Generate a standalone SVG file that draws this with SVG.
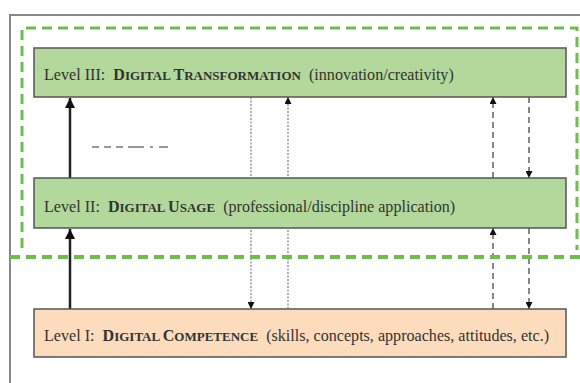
<svg xmlns="http://www.w3.org/2000/svg" width="580" height="383" viewBox="0 0 580 383">
<style>
.box{stroke:#555;stroke-width:1.5}
.lvl{fill:#b3d89b}
.base{fill:#fcdcbc}
.t{font-family:"Liberation Serif","DejaVu Serif",serif;font-size:16.1px;fill:#333;white-space:pre}
.sc{font-weight:bold}
.sm{font-weight:bold;font-size:13px}
.solid{stroke:#222;stroke-width:2.5;fill:none}
.dot{stroke:#999;stroke-width:1.5;stroke-dasharray:2 1.5;fill:none}
.dash{stroke:#888;stroke-width:2;stroke-dasharray:6 4;fill:none}
.green{stroke:#69c04b;fill:none;stroke-dasharray:10 6}
</style>
<defs>
<marker id="ah" viewBox="0 0 10 10" refX="10" refY="5" markerWidth="7" markerHeight="7" markerUnits="userSpaceOnUse" orient="auto">
<path d="M0,0 L10,5 L0,10 z" fill="#111"/>
</marker>
<marker id="ahs" viewBox="0 0 10 10" refX="10" refY="5" markerWidth="4" markerHeight="4" orient="auto">
<path d="M0,0 L10,5 L0,10 z" fill="#111"/>
</marker>
</defs>
<rect width="580" height="383" fill="#fff"/>
<path d="M10,383 L10,15 L580,15" stroke="#888" stroke-width="2" fill="none"/>

<g id="connectors">
<line class="solid" x1="70" y1="178" x2="70" y2="98" marker-end="url(#ahs)"/>
<line class="solid" x1="70" y1="309" x2="70" y2="229" marker-end="url(#ahs)"/>
<line class="dot" x1="251" y1="97" x2="251" y2="309" marker-end="url(#ah)"/>
<line class="dot" x1="288" y1="309" x2="288" y2="97" marker-end="url(#ah)"/>
<line class="dash" x1="493" y1="178" x2="493" y2="97" marker-end="url(#ah)"/>
<line class="dash" x1="493" y1="309" x2="493" y2="228" marker-end="url(#ah)"/>
<line class="dash" x1="529" y1="97" x2="529" y2="178" marker-end="url(#ah)"/>
<line class="dash" x1="529" y1="228" x2="529" y2="309" marker-end="url(#ah)"/>
<path d="M92,147 h7 m5,0 h7 m5,0 h7 m5,0 h16 m6,0 h3 m6,0 h9" stroke="#999" stroke-width="2" fill="none"/>
</g>

<g id="group-box">
<path class="green" stroke-width="3" d="M22,248 L22,28 L577,28 L577,250"/>
<line class="green" stroke-width="4" x1="10" y1="257" x2="580" y2="257"/>
</g>

<g id="level3">
<rect class="box lvl" x="34" y="48" width="532" height="49"/>
<text class="t" x="44" y="80" xml:space="preserve">Level III:  <tspan class="sc">D</tspan><tspan class="sm">IGITAL </tspan><tspan class="sc">T</tspan><tspan class="sm">RANSFORMATION</tspan>  (innovation/creativity)</text>
</g>

<g id="level2">
<rect class="box lvl" x="34" y="178" width="532" height="50"/>
<text class="t" x="44" y="212" xml:space="preserve">Level II:  <tspan class="sc">D</tspan><tspan class="sm">IGITAL </tspan><tspan class="sc">U</tspan><tspan class="sm">SAGE</tspan>  (professional/discipline application)</text>
</g>

<g id="level1">
<rect class="box base" x="34" y="309" width="532" height="48"/>
<text class="t" x="44" y="341" xml:space="preserve">Level I:  <tspan class="sc">D</tspan><tspan class="sm">IGITAL </tspan><tspan class="sc">C</tspan><tspan class="sm">OMPETENCE</tspan>  (skills, concepts, approaches, attitudes, etc.)</text>
</g>
</svg>
